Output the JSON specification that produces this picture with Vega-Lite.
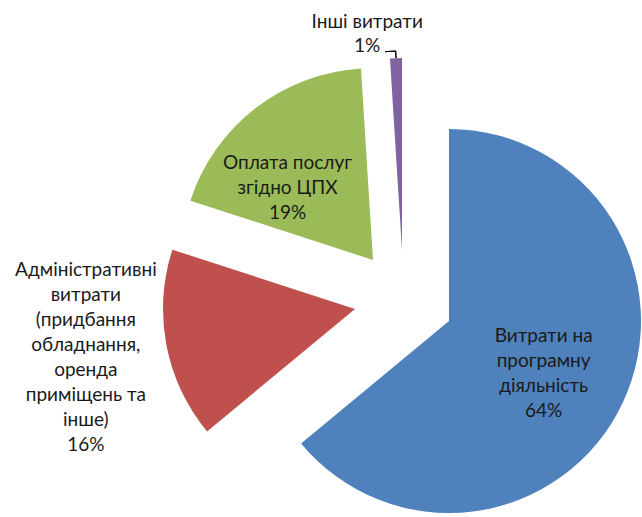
{
  "$schema": "https://vega.github.io/schema/vega-lite/v6.json",
  "width": 476,
  "height": 434,
  "autosize": {"type": "none"},
  "padding": {"left": 166, "top": 83, "right": 0, "bottom": 0},
  "background": "white",
  "view": {"stroke": null},
  "data": {
    "values": [
      {"name": "Витрати на\nпрограмну\nдіяльність", "value": 64, "order": 1},
      {"name": "Адміністративні\nвитрати\n(придбання\nобладнання,\nоренда\nприміщень та\nінше)", "value": 16, "order": 2},
      {"name": "Оплата послуг\nзгідно ЦПХ", "value": 19, "order": 3},
      {"name": "Інші витрати", "value": 1, "order": 4}
    ]
  },
  "transform": [
    {"stack": "value", "groupby": [], "sort": [{"field": "order", "order": "ascending"}], "as": ["v0", "v1"]},
    {"calculate": "(datum.v0 + datum.v1) / 2", "as": "mid"},
    {"calculate": "datum.mid - 0.85", "as": "lead"},
    {"calculate": "datum.name + '\\n' + datum.value + '%'", "as": "label"}
  ],
  "encoding": {
    "color": {
      "field": "order",
      "type": "nominal",
      "scale": {"domain": [1, 2, 3, 4], "range": ["#4F81BD", "#C0504D", "#9BBB59", "#8064A2"]},
      "legend": null
    }
  },
  "layer": [
    {
      "transform": [{"filter": "datum.order == 1"}],
      "mark": {"type": "arc", "radius": 192, "xOffset": 45, "yOffset": 21},
      "encoding": {
        "theta": {"field": "v0", "type": "quantitative", "scale": {"domain": [0, 100], "range": [0, 6.283185307]}},
        "theta2": {"field": "v1"}
      }
    },
    {
      "transform": [{"filter": "datum.order == 2"}],
      "mark": {"type": "arc", "radius": 192, "xOffset": -49, "yOffset": 9},
      "encoding": {
        "theta": {"field": "v0", "type": "quantitative"},
        "theta2": {"field": "v1"}
      }
    },
    {
      "transform": [{"filter": "datum.order == 3"}],
      "mark": {"type": "arc", "radius": 192, "xOffset": -31, "yOffset": -40},
      "encoding": {
        "theta": {"field": "v0", "type": "quantitative"},
        "theta2": {"field": "v1"}
      }
    },
    {
      "transform": [{"filter": "datum.order == 4"}],
      "mark": {"type": "arc", "radius": 192, "xOffset": -2, "yOffset": -50},
      "encoding": {
        "theta": {"field": "v0", "type": "quantitative"},
        "theta2": {"field": "v1"}
      }
    },
    {
      "transform": [{"filter": "datum.order == 4"}],
      "mark": {"type": "arc", "filled": false, "innerRadius": 199, "outerRadius": 199, "strokeWidth": 1, "xOffset": -2, "yOffset": -50},
      "encoding": {
        "theta": {"field": "lead", "type": "quantitative"},
        "theta2": {"field": "mid"},
        "color": {"value": "#000000"}
      }
    },
    {
      "transform": [{"filter": "datum.order == 4"}],
      "mark": {"type": "arc", "filled": false, "innerRadius": 192, "outerRadius": 199, "strokeWidth": 1, "xOffset": -2, "yOffset": -50},
      "encoding": {
        "theta": {"field": "mid", "type": "quantitative"},
        "theta2": {"field": "mid"},
        "color": {"value": "#000000"}
      }
    },
    {
      "transform": [{"filter": "datum.order == 1"}],
      "mark": {"type": "text", "radius": 109, "xOffset": 41, "yOffset": -10, "align": "center", "baseline": "middle", "lineBreak": "\n", "lineHeight": 25, "font": "Lato", "fontSize": 19},
      "encoding": {
        "theta": {"field": "mid", "type": "quantitative"},
        "text": {"field": "label"},
        "color": {"value": "#1a1a1a"}
      }
    },
    {
      "transform": [{"filter": "datum.order == 2"}],
      "mark": {"type": "text", "radius": 273, "xOffset": -50, "yOffset": -81, "align": "center", "baseline": "middle", "lineBreak": "\n", "lineHeight": 25, "font": "Lato", "fontSize": 19},
      "encoding": {
        "theta": {"field": "mid", "type": "quantitative"},
        "text": {"field": "label"},
        "color": {"value": "#1a1a1a"}
      }
    },
    {
      "transform": [{"filter": "datum.order == 3"}],
      "mark": {"type": "text", "radius": 128, "xOffset": -38, "yOffset": -36, "align": "center", "baseline": "middle", "lineBreak": "\n", "lineHeight": 25, "font": "Lato", "fontSize": 19},
      "encoding": {
        "theta": {"field": "mid", "type": "quantitative"},
        "text": {"field": "label"},
        "color": {"value": "#1a1a1a"}
      }
    },
    {
      "transform": [{"filter": "datum.order == 4"}],
      "mark": {"type": "text", "radius": 217, "xOffset": -30, "yOffset": -61, "align": "center", "baseline": "middle", "lineBreak": "\n", "lineHeight": 24, "font": "Lato", "fontSize": 19},
      "encoding": {
        "theta": {"field": "mid", "type": "quantitative"},
        "text": {"field": "label"},
        "color": {"value": "#1a1a1a"}
      }
    }
  ]
}
